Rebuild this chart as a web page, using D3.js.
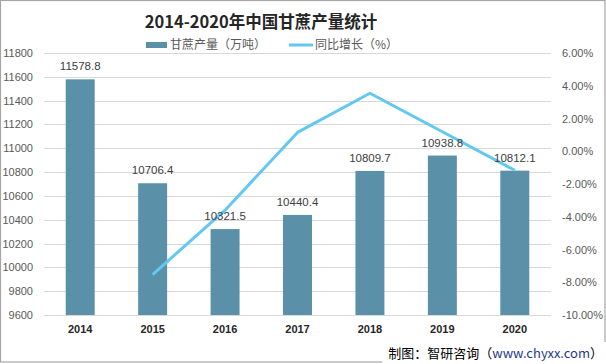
<!DOCTYPE html>
<html><head><meta charset="utf-8">
<script src="https://cdn.jsdelivr.net/npm/d3@7"></script>
<style>body{margin:0;background:#fff}svg{display:block}</style>
</head><body>
<svg id="c" width="606" height="364"></svg>
<script>
const years = ["2014","2015","2016","2017","2018","2019","2020"];
const output = [11578.8,10706.4,10321.5,10440.4,10809.7,10938.8,10812.1];
const growth = [null,-7.53,-3.60,1.15,3.54,1.19,-1.16];
const leftTicks = [9600,9800,10000,10200,10400,10600,10800,11000,11200,11400,11600,11800];
const rightTicks = [-10,-8,-6,-4,-2,0,2,4,6];

const svg = d3.select("#c");
const m = {l:44, r:551, t:53, b:315};
svg.append("rect").attr("x",0.5).attr("y",0.5).attr("width",604.5).attr("height",361.5)
  .attr("fill","#fff").attr("stroke","#a6a6a6").attr("stroke-width",1.2);

const x = d3.scaleBand().domain(years).range([m.l,m.r]).paddingInner(0.6).paddingOuter(0.3);
const yL = d3.scaleLinear().domain([9600,11800]).range([m.b,m.t]);
const yR = d3.scaleLinear().domain([-10,6]).range([m.b,m.t]);

// gridlines
svg.append("g").selectAll("line").data(leftTicks).join("line")
  .attr("x1",m.l).attr("x2",m.r).attr("y1",d=>Math.round(yL(d))+0.5).attr("y2",d=>Math.round(yL(d))+0.5)
  .attr("stroke","#d9d9d9").attr("stroke-width",1);

// left axis
const ax = d3.axisLeft(yL).tickValues(leftTicks).tickSize(0).tickPadding(0).tickFormat(d3.format("d"));
const gl = svg.append("g").attr("transform","translate(33,0)").call(ax);
gl.select(".domain").remove();
gl.selectAll("text").attr("font-family","Liberation Sans, Arial, sans-serif").attr("font-size",11).attr("fill","#595959");

const axr = d3.axisRight(yR).tickValues(rightTicks).tickSize(0).tickPadding(0).tickFormat(d=>d.toFixed(2)+"%");
const gr = svg.append("g").attr("transform","translate(562,0)").call(axr);
gr.select(".domain").remove();
gr.selectAll("text").attr("font-family","Liberation Sans, Arial, sans-serif").attr("font-size",11).attr("fill","#595959");

// bars
svg.append("g").selectAll("rect").data(years).join("rect")
  .attr("x",d=>x(d)).attr("width",x.bandwidth())
  .attr("y",(d,i)=>yL(output[i])).attr("height",(d,i)=>m.b-yL(output[i]))
  .attr("fill","#5b91a8");

// x labels
const xa = d3.axisBottom(x).tickSize(0).tickPadding(0);
const gx = svg.append("g").attr("transform","translate(0,325)").call(xa);
gx.select(".domain").remove();
gx.selectAll("text").attr("font-family","Liberation Sans, Arial, sans-serif").attr("font-size",11)
  .attr("font-weight","bold").attr("fill","#262626");

// line
const pts = years.map((d,i)=>({d,v:growth[i]})).filter(p=>p.v!==null);
svg.append("path").datum(pts)
  .attr("d",d3.line().x(p=>x(p.d)+x.bandwidth()/2).y(p=>yR(p.v)))
  .attr("fill","none").attr("stroke","#62c8f0").attr("stroke-width",3).attr("stroke-linejoin","round");

// data labels
svg.append("g").selectAll("text").data(years).join("text")
  .attr("x",d=>x(d)+x.bandwidth()/2).attr("y",(d,i)=>yL(output[i])-9)
  .attr("text-anchor","middle").attr("font-family","Liberation Sans, Arial, sans-serif")
  .attr("font-size",11.5).attr("fill","#404040").text((d,i)=>output[i].toFixed(1));

// title
svg.append("text").attr("x",261).attr("y",28).attr("text-anchor","middle")
  .attr("font-family","Noto Sans CJK SC, sans-serif").attr("font-weight","bold").attr("font-size",16.5)
  .attr("fill","#262626").text("2014-2020年中国甘蔗产量统计");

// legend
const lg = svg.append("g").attr("font-family","Noto Sans CJK SC, sans-serif").attr("font-size",12).attr("fill","#595959");
lg.append("rect").attr("x",146).attr("y",42).attr("width",21).attr("height",6).attr("fill","#5b91a8");
lg.append("text").attr("x",170).attr("y",49).text("甘蔗产量（万吨）");
lg.append("line").attr("x1",289).attr("x2",313).attr("y1",45).attr("y2",45).attr("stroke","#62c8f0").attr("stroke-width",3);
lg.append("text").attr("x",315).attr("y",49).text("同比增长（%）");

// watermark
svg.append("rect").attr("x",382).attr("y",342).attr("width",224).attr("height",22).attr("fill","#fff");
const wm = svg.append("text").attr("x",603).attr("y",358).attr("text-anchor","end")
  .attr("font-family","Noto Sans CJK SC, sans-serif").attr("font-size",13).attr("fill","#000");
wm.append("tspan").text("制图：智研咨询（");
wm.append("tspan").attr("fill","#1f3a8a").text("www.chyxx.com");
wm.append("tspan").text("）");
</script>
</body></html>
